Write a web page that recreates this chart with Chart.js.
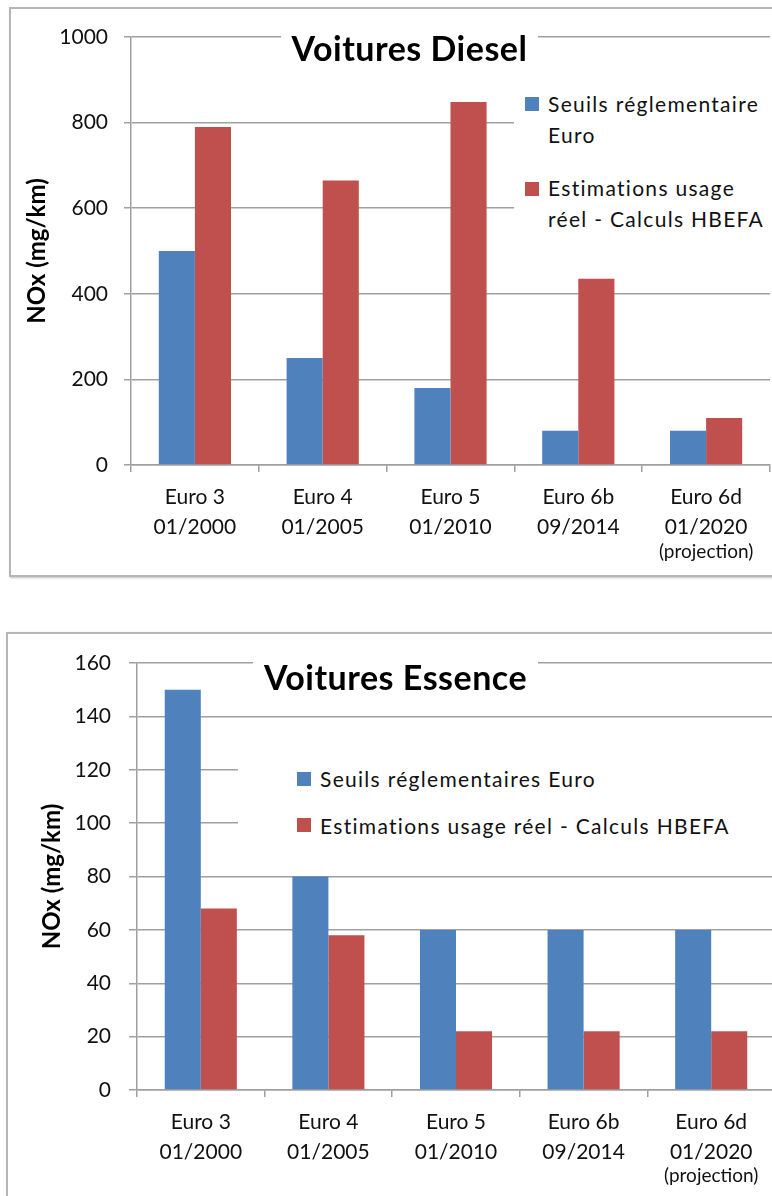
<!DOCTYPE html>
<html>
<head>
<meta charset="utf-8">
<script src="https://cdn.jsdelivr.net/npm/chart.js@4.4.1/dist/chart.umd.min.js"></script>
<style>
  html, body { margin:0; padding:0; background:#fff; }
  body { width:772px; height:1196px; overflow:hidden; position:relative; font-family: Lato, sans-serif; }
  .box { position:absolute; border:2px solid #b6b6b6; box-shadow:1px 1px 2px rgba(0,0,0,0.25); background:#fff; }
  canvas { position:absolute; }
  .ttl { position:absolute; background:#fff; text-align:center; font-weight:bold; font-size:34px; letter-spacing:0.5px; color:#000; white-space:nowrap; }
  .leg { position:absolute; background:#fff; }
  .sq { position:absolute; width:14px; height:14px; }
  .lt { position:absolute; font-size:21px; line-height:31px; letter-spacing:1.3px; color:#111; white-space:nowrap; }
</style>
</head>
<body>
<div class="box" style="left:9px;top:7px;width:800px;height:566px;"></div>
<div class="box" style="left:6px;top:632px;width:800px;height:600px;"></div>

<canvas id="c1" width="772" height="590" style="left:0;top:0;"></canvas>
<canvas id="c2" width="777" height="576" style="left:0;top:620px;"></canvas>

<div class="ttl" id="t1" style="left:281px;top:30px;width:257px;height:36px;line-height:36px;"></div>
<div class="ttl" id="t2" style="left:253px;top:659px;width:285px;height:36px;line-height:36px;"></div>

<div class="leg" style="left:514px;top:65px;width:260px;height:208px;">
</div>
<div class="sq" id="l1s1" style="left:525px;top:97px;"></div>
<div class="lt" id="l1t1" style="left:548px;top:88px;"></div>
<div class="sq" id="l1s2" style="left:525px;top:182px;"></div>
<div class="lt" id="l1t2" style="left:548px;top:172px;"></div>

<div class="leg" style="left:238px;top:729px;width:540px;height:137px;"></div>
<div class="sq" id="l2s1" style="left:297px;top:772px;"></div>
<div class="lt" id="l2t1" style="left:320px;top:763px;"></div>
<div class="sq" id="l2s2" style="left:297px;top:818px;"></div>
<div class="lt" id="l2t2" style="left:320px;top:810px;"></div>

<script>
// ---------- data ----------
const categories = [
  ['Euro 3', '01/2000'],
  ['Euro 4', '01/2005'],
  ['Euro 5', '01/2010'],
  ['Euro 6b', '09/2014'],
  ['Euro 6d', '01/2020']
];
const projectionNote = '(projection)';
const seriesNames = ['Seuils réglementaires Euro', 'Estimations usage réel - Calculs HBEFA'];
const seriesNamesDiesel = [['Seuils réglementaire', 'Euro'], ['Estimations usage', 'réel - Calculs HBEFA']];

const dieselTitle = 'Voitures Diesel';
const dieselSeuils = [500, 250, 180, 80, 80];
const dieselReel = [790, 665, 848, 435, 110];
const dieselTicks = [0, 200, 400, 600, 800, 1000];

const essenceTitle = 'Voitures Essence';
const essenceSeuils = [150, 80, 60, 60, 60];
const essenceReel = [68, 58, 22, 22, 22];
const essenceTicks = [0, 20, 40, 60, 80, 100, 120, 140, 160];

const yTitle = 'NOx (mg/km)';
const colors = ['#4F81BD', '#C0504D'];

// ---------- text overlays ----------
document.getElementById('t1').textContent = dieselTitle;
document.getElementById('t2').textContent = essenceTitle;
document.getElementById('l1s1').style.background = colors[0];
document.getElementById('l1s2').style.background = colors[1];
document.getElementById('l2s1').style.background = colors[0];
document.getElementById('l2s2').style.background = colors[1];
document.getElementById('l1t1').innerHTML = seriesNamesDiesel[0].join('<br>');
document.getElementById('l1t2').innerHTML = seriesNamesDiesel[1].join('<br>');
document.getElementById('l2t1').textContent = seriesNames[0];
document.getElementById('l2t2').textContent = seriesNames[1];

const FONT = 'Lato, sans-serif';

const projectionPlugin = {
  id: 'projection',
  afterDraw(chart, args, opts) {
    const xs = chart.scales.x;
    const ctx = chart.ctx;
    ctx.save();
    ctx.font = '19px ' + FONT;
    ctx.fillStyle = '#111';
    ctx.textAlign = 'center';
    ctx.textBaseline = 'middle';
    ctx.fillText(projectionNote, xs.getPixelForValue(categories.length - 1), chart.chartArea.bottom + opts.dy);
    ctx.restore();
  }
};

function makeChart(id, seuils, reel, ticks, cfg) {
  const max = ticks[ticks.length - 1];
  const step = ticks[1] - ticks[0];
  return new Chart(document.getElementById(id), {
    type: 'bar',
    data: {
      labels: categories,
      datasets: [
        { label: seriesNames[0], data: seuils, backgroundColor: colors[0], borderWidth: 0 },
        { label: seriesNames[1], data: reel, backgroundColor: colors[1], borderWidth: 0 }
      ]
    },
    options: {
      responsive: false,
      animation: false,
      devicePixelRatio: 1,
      barPercentage: 1,
      categoryPercentage: 0.565,
      layout: { padding: { top: cfg.top, right: 2, left: 0, bottom: 0 } },
      plugins: {
        legend: { display: false },
        title: { display: false },
        tooltip: { enabled: false },
        projection: { dy: cfg.projDy }
      },
      scales: {
        x: {
          afterFit: s => { s.height = cfg.xHeight; },
          grid: { drawOnChartArea: false, drawTicks: true, tickLength: 7, color: '#a0a0a0', lineWidth: 1.5 },
          border: { display: true, color: '#a0a0a0', width: 1.5 },
          ticks: { color: '#111', font: { family: FONT, size: 21, lineHeight: 30 / 21 }, padding: 10, maxRotation: 0, autoSkip: false }
        },
        y: {
          min: 0, max: max,
          afterFit: s => { s.width = cfg.yWidth; },
          afterBuildTicks: s => { s.ticks = ticks.map(v => ({ value: v })); },
          grid: { color: '#a0a0a0', lineWidth: 1.5, tickLength: cfg.tickLen },
          border: { display: true, color: '#a0a0a0', width: 1.5 },
          ticks: { stepSize: step, color: '#111', font: { family: FONT, size: 21 }, padding: cfg.tickPad,
                   callback: v => String(v) },
          title: { display: true, text: yTitle, color: '#000', font: { family: FONT, size: 24, weight: 'bold', lineHeight: 1.2 }, padding: { top: cfg.titlePad, bottom: 0 } }
        }
      }
    },
    plugins: [projectionPlugin]
  });
}

makeChart('c1', dieselSeuils, dieselReel, dieselTicks,
  { top: 37, xHeight: 125, yWidth: 131, tickLen: 7, tickPad: 16, titlePad: 22.6, projDy: 87 });
makeChart('c2', essenceSeuils, essenceReel, essenceTicks,
  { top: 43, xHeight: 106, yWidth: 137, tickLen: 8, tickPad: 18, titlePad: 37.6, projDy: 86 });
</script>
</body>
</html>
